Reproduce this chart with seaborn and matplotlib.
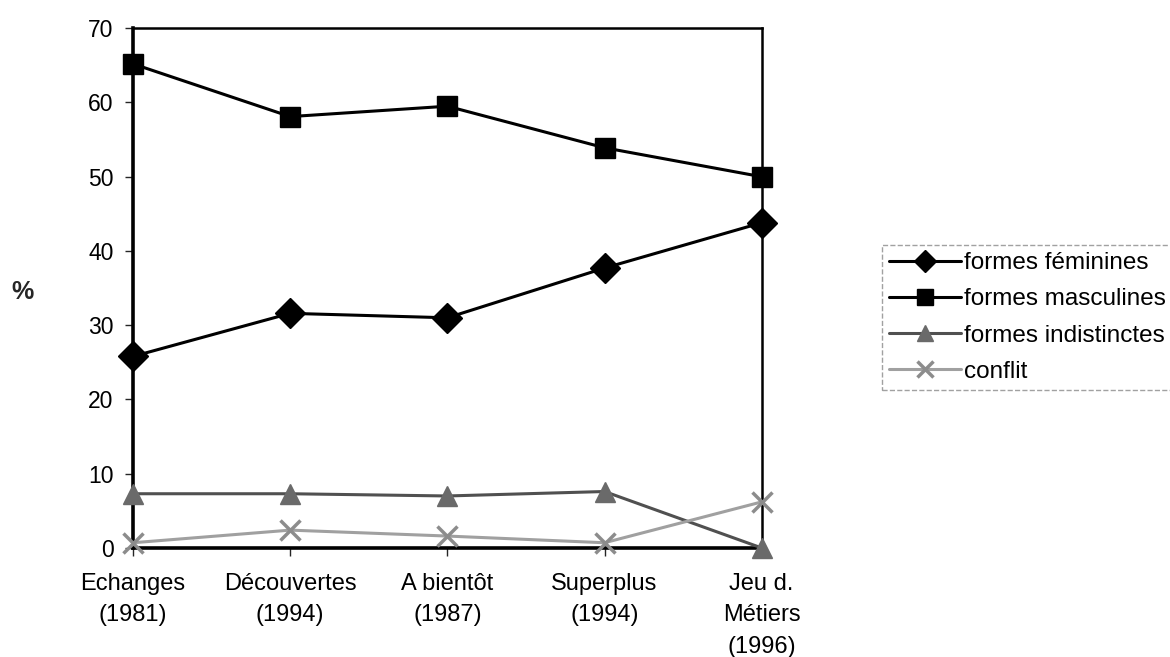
import matplotlib
matplotlib.use("Agg")
import matplotlib.pyplot as plt
import numpy as np
import pandas as pd
import seaborn as sns

manuels = ['Echanges\n(1981)', 'Découvertes\n(1994)', 'A bientôt\n(1987)',
           'Superplus\n(1994)', 'Jeu d.\nMétiers\n(1996)']
feminines = [25.8, 31.6, 31.0, 37.7, 43.8]
masculines = [65.2, 58.1, 59.5, 53.9, 50.0]
indistinctes = [7.3, 7.3, 7.0, 7.6, 0.0]
conflit = [0.7, 2.4, 1.6, 0.7, 6.2]

series = [
    ('formes féminines', feminines, 'D', 'black', 'black'),
    ('formes masculines', masculines, 's', 'black', 'black'),
    ('formes indistinctes', indistinctes, '^', '#505050', '#6a6a6a'),
    ('conflit', conflit, 'x', '#a0a0a0', '#8c8c8c'),
]

sns.set_style("white")
plt.rcParams['font.family'] = ['Liberation Sans', 'DejaVu Sans']

fig = plt.figure(figsize=(11.7, 6.57), dpi=100)
ax = fig.add_axes([0.1137, 0.166, 0.651 - 0.1137, 0.957 - 0.166])

rows = []
for name, vals, m, c, fc in series:
    for i, v in enumerate(vals):
        rows.append({'x': i, 'val': v, 'serie': name})
df = pd.DataFrame(rows)

for name, vals, m, c, fc in series:
    sub = df[df['serie'] == name]
    sns.lineplot(data=sub, x='x', y='val', ax=ax, color=c, lw=2.2,
                 marker=m, markersize=15 if m != 'x' else 15,
                 markerfacecolor=fc, markeredgecolor=fc,
                 markeredgewidth=1 if m != 'x' else 2.5,
                 label=name, clip_on=False, zorder=3)

ax.set_xlim(0, 4)
ax.set_ylim(0, 70)
ax.set_yticks(range(0, 71, 10))
ax.set_xticks(range(len(manuels)))
ax.set_xticklabels(manuels, fontsize=17, linespacing=1.55)
ax.tick_params(axis='y', labelsize=16.5, labelcolor='black', direction='out',
               length=6, width=1, left=True, pad=8)
ax.tick_params(axis='x', labelcolor='black', direction='out', length=6, width=1,
               bottom=True, pad=12)
ax.set_xlabel('')
ax.set_ylabel('')
for s in ax.spines.values():
    s.set_color('black')
    s.set_linewidth(1.8)
ax.spines['bottom'].set_linewidth(2.6)
ax.spines['left'].set_linewidth(2.6)

fig.text(0.010, 1 - 292 / 657, '%', fontsize=18, fontweight='bold', va='center', ha='left')

leg = ax.legend(loc='upper left', bbox_to_anchor=(0.754, 0.627), bbox_transform=fig.transFigure,
                fontsize=17.5, frameon=True, fancybox=False, borderaxespad=0,
                handlelength=2.95, handletextpad=0.12, borderpad=0.3, labelspacing=0.58,
                markerscale=0.75)
for t in leg.get_texts():
    t.set_color('black')
frame = leg.get_frame()
frame.set_edgecolor('#8a8a8a')
frame.set_linestyle('--')
frame.set_linewidth(1)

fig.savefig('out.png', dpi=100)
